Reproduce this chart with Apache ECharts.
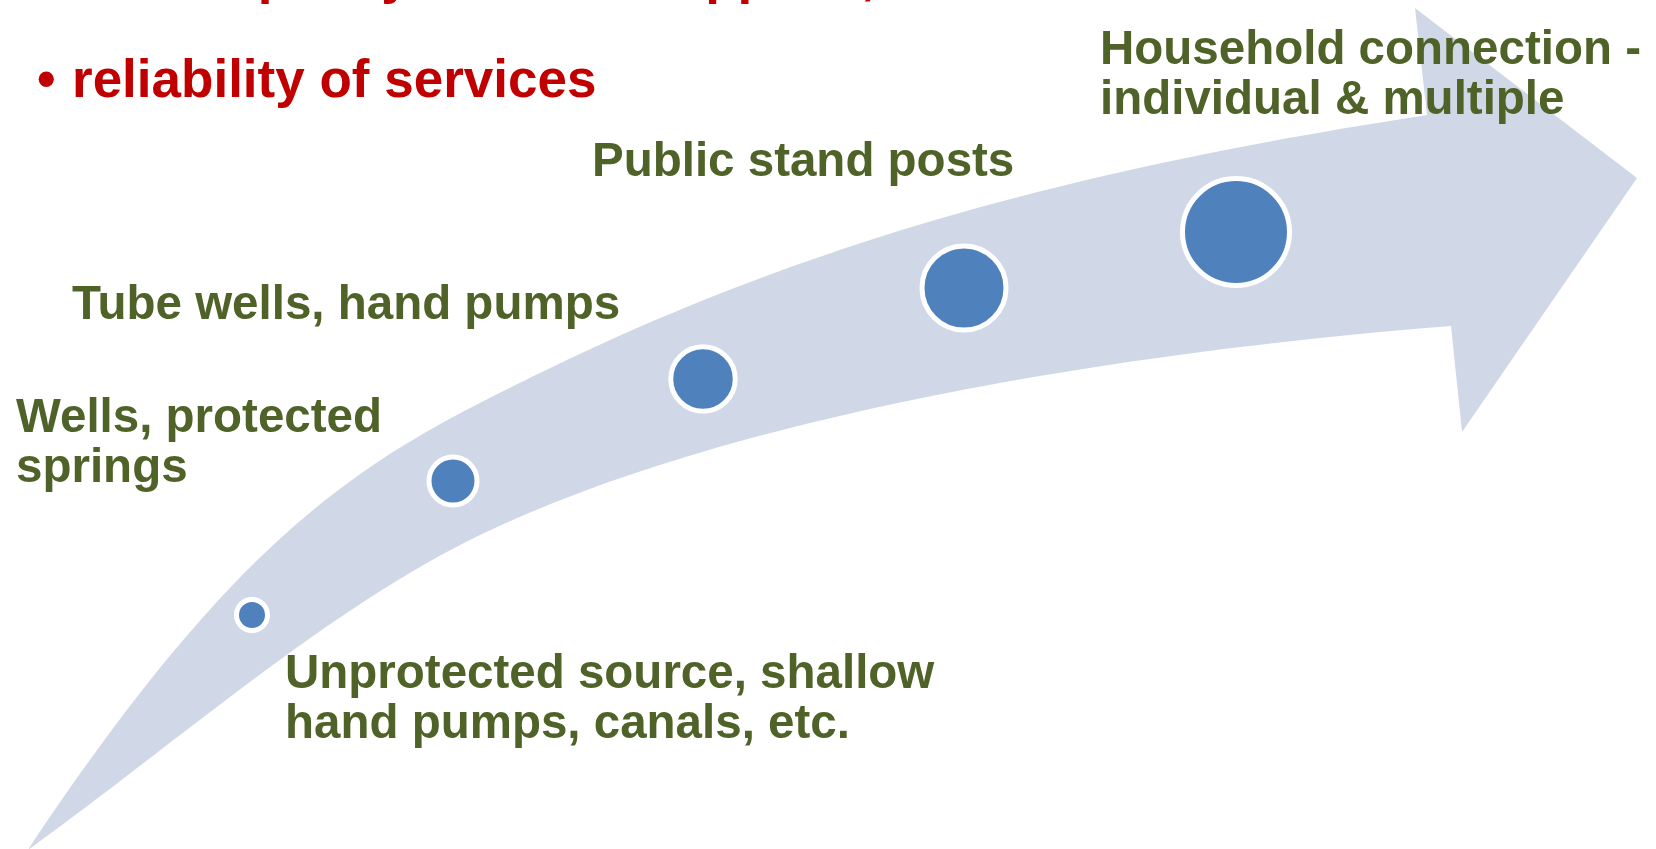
<!DOCTYPE html>
<html><head><meta charset="utf-8">
<script src="https://cdn.jsdelivr.net/npm/echarts@6/dist/echarts.min.js"></script>
<style>html,body{margin:0;padding:0;background:#fff;overflow:hidden}#c{width:1656px;height:849px}</style>
</head><body><div id="c"></div>
<script>
// ---- data (slide coordinate system: x 0..1656, y 0..849 downwards) ----
const stageNames = [
  'Unprotected source, shallow hand pumps, canals, etc.',
  'Wells, protected springs',
  'Tube wells, hand pumps',
  'Public stand posts',
  'Household connection - individual & multiple'
];
const stageX = [252, 453, 703, 964, 1236];
const stageY = [615, 481, 379, 288, 232];
const stageLevel = [31, 48, 64.5, 84, 107];

// arrow outline: cubic bezier chains (start, c1, c2, end, c1, c2, end ...)
const arrowUpperEdge = [[28,850],[248,520],[370,456],[540,373],[840,226],[1127,161.5],[1427,115]];
const arrowHead = [[1415,8],[1637,178],[1462,432],[1451,326]];
const arrowLowerEdge = [[28,850],[178,742],[330,607],[480,535],[730,415],[1121,352],[1451,326]];

const headingLines = ['Better quality of water supplied, and', 'reliability of services'];
const stageLabelLines = [
  ['Unprotected source, shallow', 'hand pumps, canals, etc.'],
  ['Wells, protected', 'springs'],
  ['Tube wells, hand pumps'],
  ['Public stand posts'],
  ['Household connection -', 'individual & multiple']
];

// ---- layout / style ----
const GREEN = '#4F6228', RED = '#C00000', ARROW = '#D0D8E8', DOT = '#4F81BD';
const FONT = '"Liberation Sans", Arial, Helvetica, sans-serif';
const greenSize = 47.5, redSize = 53;
const labelAnchors = [[285, 687], [16, 431], [72, 318], [592, 175], [1100, 63]];
const greenLineGap = 50;
const headingBaselines = [-8, 96];

function bezierPath(pts, move) {
  let d = move ? 'M' + pts[0][0] + ' ' + pts[0][1] : '';
  for (let i = 1; i + 2 < pts.length; i += 3) {
    d += ' C' + pts[i][0] + ' ' + pts[i][1] + ' ' + pts[i + 1][0] + ' ' + pts[i + 1][1] + ' ' + pts[i + 2][0] + ' ' + pts[i + 2][1];
  }
  return d;
}

const graphics = [];
function addText(txt, x, baseline, size, color) {
  graphics.push({
    type: 'text', x: x, y: baseline - size * 0.25, z: 100,
    style: { text: txt, fill: color, fontSize: size, fontWeight: 'bold', fontFamily: FONT, verticalAlign: 'middle', align: 'left' }
  });
}
headingLines.forEach((t, i) => {
  addText('\u2022', 37, headingBaselines[i], redSize, RED);
  addText(t, 72, headingBaselines[i], redSize, RED);
});
stageLabelLines.forEach((lines, i) => {
  lines.forEach((t, j) => addText(t, labelAnchors[i][0], labelAnchors[i][1] + j * greenLineGap, greenSize, GREEN));
});

const chart = echarts.init(document.getElementById('c'), null, { renderer: 'canvas' });
chart.setOption({
  animation: false,
  backgroundColor: '#ffffff',
  grid: { left: 0, right: 0, top: 0, bottom: 0 },
  xAxis: { type: 'value', min: 0, max: 1656, show: false },
  yAxis: { type: 'value', min: 0, max: 849, inverse: true, show: false },
  graphic: graphics,
  series: [
    {
      type: 'custom', z: 1, silent: true,
      data: [[0, 0]],
      renderItem: function (params, api) {
        const up = arrowUpperEdge.map(p => api.coord(p));
        const head = arrowHead.map(p => api.coord(p));
        const low = arrowLowerEdge.map(p => api.coord(p)).reverse();
        let d = bezierPath(up, true);
        head.forEach(p => { d += ' L' + p[0] + ' ' + p[1]; });
        d += bezierPath(low, false) + ' Z';
        return { type: 'path', shape: { pathData: d }, style: { fill: ARROW, stroke: null } };
      }
    },
    {
      type: 'scatter', z: 5, silent: true,
      data: stageX.map((x, i) => [x, stageY[i], stageLevel[i], stageNames[i]]),
      symbol: 'circle',
      symbolSize: v => v[2],
      itemStyle: { color: DOT, borderColor: '#ffffff', borderWidth: 5, opacity: 1 }
    }
  ]
});
</script>
</body></html>
